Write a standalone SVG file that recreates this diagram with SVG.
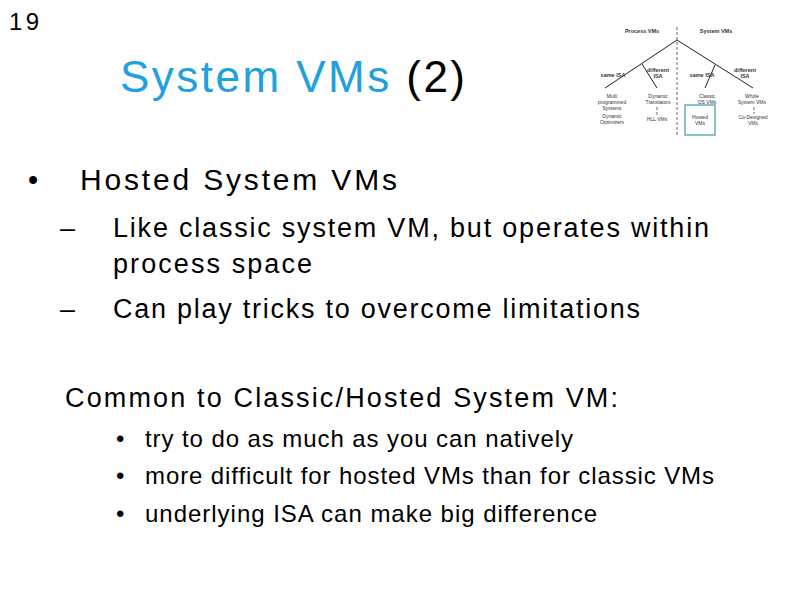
<svg xmlns="http://www.w3.org/2000/svg" width="794" height="595" viewBox="0 0 794 595">
<style>
text{font-family:"Liberation Sans",Arial,sans-serif;fill:#000}
.s{font-size:5px;text-anchor:middle;fill:#333}
.b{font-size:5.5px;font-weight:bold;text-anchor:middle;fill:#333}
.l{stroke:#222;stroke-width:1;fill:none}
.d{stroke:#444;stroke-width:0.8;stroke-dasharray:3,2;fill:none}
</style>
<rect width="794" height="595" fill="#fff"/>
<text x="9" y="30" font-size="24" textLength="30" lengthAdjust="spacing">19</text>
<text x="120" y="92" font-size="44" textLength="345" lengthAdjust="spacing"><tspan fill="#1fa0e0">System VMs</tspan> (2)</text>
<text x="28" y="190" font-size="29">•</text>
<text x="80" y="190" font-size="30" textLength="317" lengthAdjust="spacing">Hosted System VMs</text>
<text x="60" y="237" font-size="27">–</text>
<text x="113" y="237" font-size="27" textLength="596" lengthAdjust="spacing">Like classic system VM, but operates within</text>
<text x="113" y="273" font-size="27" textLength="199" lengthAdjust="spacing">process space</text>
<text x="60" y="318" font-size="27">–</text>
<text x="113" y="318" font-size="27" textLength="527" lengthAdjust="spacing">Can play tricks to overcome limitations</text>
<text x="65" y="407" font-size="27" textLength="553" lengthAdjust="spacing">Common to Classic/Hosted System VM:</text>
<g font-size="24">
<text x="116" y="447">•</text><text x="145" y="447" textLength="428" lengthAdjust="spacing">try to do as much as you can natively</text>
<text x="116" y="484">•</text><text x="145" y="484" textLength="569" lengthAdjust="spacing">more difficult for hosted VMs than for classic VMs</text>
<text x="116" y="522">•</text><text x="145" y="522" textLength="452" lengthAdjust="spacing">underlying ISA can make big difference</text>
</g>
<g id="connectors">
<line class="d" x1="677" y1="27" x2="677" y2="136"/>
<line class="l" x1="677" y1="40" x2="605" y2="88"/>
<line class="l" x1="677" y1="40" x2="753" y2="88"/>
<line class="l" x1="642" y1="64" x2="657" y2="88"/>
<line class="l" x1="715" y1="65" x2="705" y2="88"/>
<line class="d" x1="657" y1="107" x2="657" y2="116"/>
<line class="d" x1="754" y1="107" x2="754" y2="114"/>
</g>
<g id="labels">
<text class="b" x="642" y="33">Process VMs</text>
<text class="b" x="716" y="33">System VMs</text>
<text class="b" x="613" y="77">same ISA</text>
<text class="b" x="658" y="72">different</text><text class="b" x="658" y="78">ISA</text>
<text class="b" x="702" y="77">same ISA</text>
<text class="b" x="745" y="72">different</text><text class="b" x="745" y="78">ISA</text>
</g>
<g id="multi"><text class="s" x="612" y="98">Multi</text><text class="s" x="612" y="104">programmed</text><text class="s" x="612" y="110">Systems</text></g>
<g id="dynopt"><text class="s" x="612" y="118">Dynamic</text><text class="s" x="612" y="124">Optimizers</text></g>
<g id="dyntrans"><text class="s" x="658" y="98">Dynamic</text><text class="s" x="658" y="104">Translators</text></g>
<g id="hll"><text class="s" x="657" y="121">HLL VMs</text></g>
<g id="classic"><text class="s" x="707" y="98">Classic</text><text class="s" x="707" y="104">OS VMs</text></g>
<g id="hosted"><rect x="685" y="105" width="30" height="30" fill="none" stroke="#3a9aa8" stroke-width="1.2"/><text class="s" x="700" y="119">Hosted</text><text class="s" x="700" y="125">VMs</text></g>
<g id="whole"><text class="s" x="752" y="98">Whole</text><text class="s" x="752" y="104">System VMs</text></g>
<g id="codesigned"><text class="s" x="753" y="119">Co-Designed</text><text class="s" x="753" y="125">VMs</text></g>
</svg>
